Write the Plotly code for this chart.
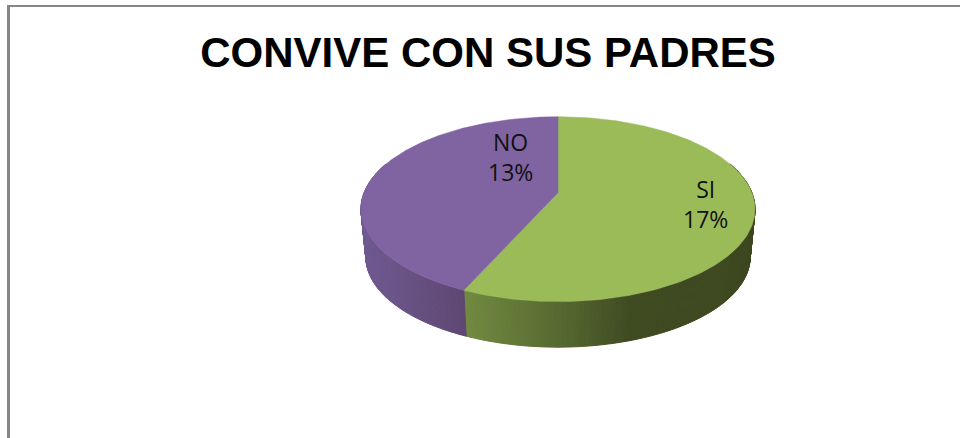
import numpy as np
import plotly.graph_objects as go

# Data
categories = ["SI", "NO"]
values = [17, 13]
percent_labels = ["17%", "13%"]
title_text = "CONVIVE CON SUS PADRES"

# Style
top_colors = ["#9BBB59", "#8064A2"]
label_pos = [(705, 204), (510, 157)]
side_stops = [
    [(463, (114, 138, 64)), (560, (86, 105, 49)), (630, (63, 74, 33)), (760, (62, 72, 32))],
    [(360, (112, 90, 146)), (465, (94, 71, 114))],
]

# 3D pie projection (pixel-based axes, perspective disc)
CX, CY, A, B, K = 558.0, 192.7, 193.9, 89.5, 0.178
SCALE_LOW, CY_LOW = 0.975, 241.0


def project(theta, scale=1.0, cy=CY):
    u, v = np.sin(theta), np.cos(theta)
    w = 1 + K * v
    return CX + scale * A * u / w, cy - scale * B * v / w


def side_color(x, stops):
    xs = [s[0] for s in stops]
    rgb = [float(np.interp(x, xs, [s[1][i] for s in stops])) for i in range(3)]
    return "rgb(%d,%d,%d)" % tuple(round(c) for c in rgb)


total = sum(values)
edges = np.cumsum([0] + values) / total * 2 * np.pi
fig = go.Figure()

# Side wall strips
for i in range(len(values)):
    lo, hi = max(edges[i], np.radians(70)), min(edges[i + 1], np.radians(290))
    ts = np.linspace(lo, hi, max(2, int((hi - lo) / np.radians(0.7))))
    for a, b in zip(ts[:-1], ts[1:]):
        x1, y1 = project(a)
        x2, y2 = project(b)
        x3, y3 = project(b, SCALE_LOW, CY_LOW)
        x4, y4 = project(a, SCALE_LOW, CY_LOW)
        col = side_color((x1 + x2 + x3 + x4) / 4, side_stops[i])
        fig.add_trace(go.Scatter(
            x=[x1, x2, x3, x4, x1], y=[y1, y2, y3, y4, y1], mode="lines",
            fill="toself", fillcolor=col, line=dict(color=col, width=1),
            hoverinfo="skip", showlegend=False))

# Top faces
for i, name in enumerate(categories):
    ts = np.linspace(edges[i], edges[i + 1], 200)
    xs, ys = project(ts)
    fig.add_trace(go.Scatter(
        x=np.r_[CX, xs, CX], y=np.r_[CY, ys, CY], mode="lines", fill="toself",
        fillcolor=top_colors[i], line=dict(color=top_colors[i], width=0.5),
        name=name, showlegend=False, hoverinfo="name"))

# Labels
for name, pct, (lx, ly) in zip(categories, percent_labels, label_pos):
    fig.add_annotation(x=lx, y=ly, text=f"{name}<br>{pct}", showarrow=False,
                       font=dict(family="Open Sans", size=23, color="#111111"))

# Frame
fig.add_shape(type="line", x0=8.5, x1=8.5, y0=5, y1=438, line=dict(color="#868686", width=3))
fig.add_shape(type="line", x0=7, x1=960, y0=6, y1=6, line=dict(color="#868686", width=2))

fig.update_layout(
    width=960, height=438, margin=dict(l=0, r=0, t=0, b=0),
    paper_bgcolor="white", plot_bgcolor="white",
    xaxis=dict(range=[0, 960], visible=False, fixedrange=True),
    yaxis=dict(range=[438, 0], visible=False, fixedrange=True),
    title=dict(text=f"<b>{title_text}</b>", x=488 / 960, xanchor="center",
               y=1 - 52 / 438, yanchor="middle",
               font=dict(family="Liberation Sans", size=42, color="black")),
)
fig.write_html("out.html", config={"displayModeBar": False},
               post_script="document.body.style.margin='0';document.documentElement.style.overflow='hidden';")
